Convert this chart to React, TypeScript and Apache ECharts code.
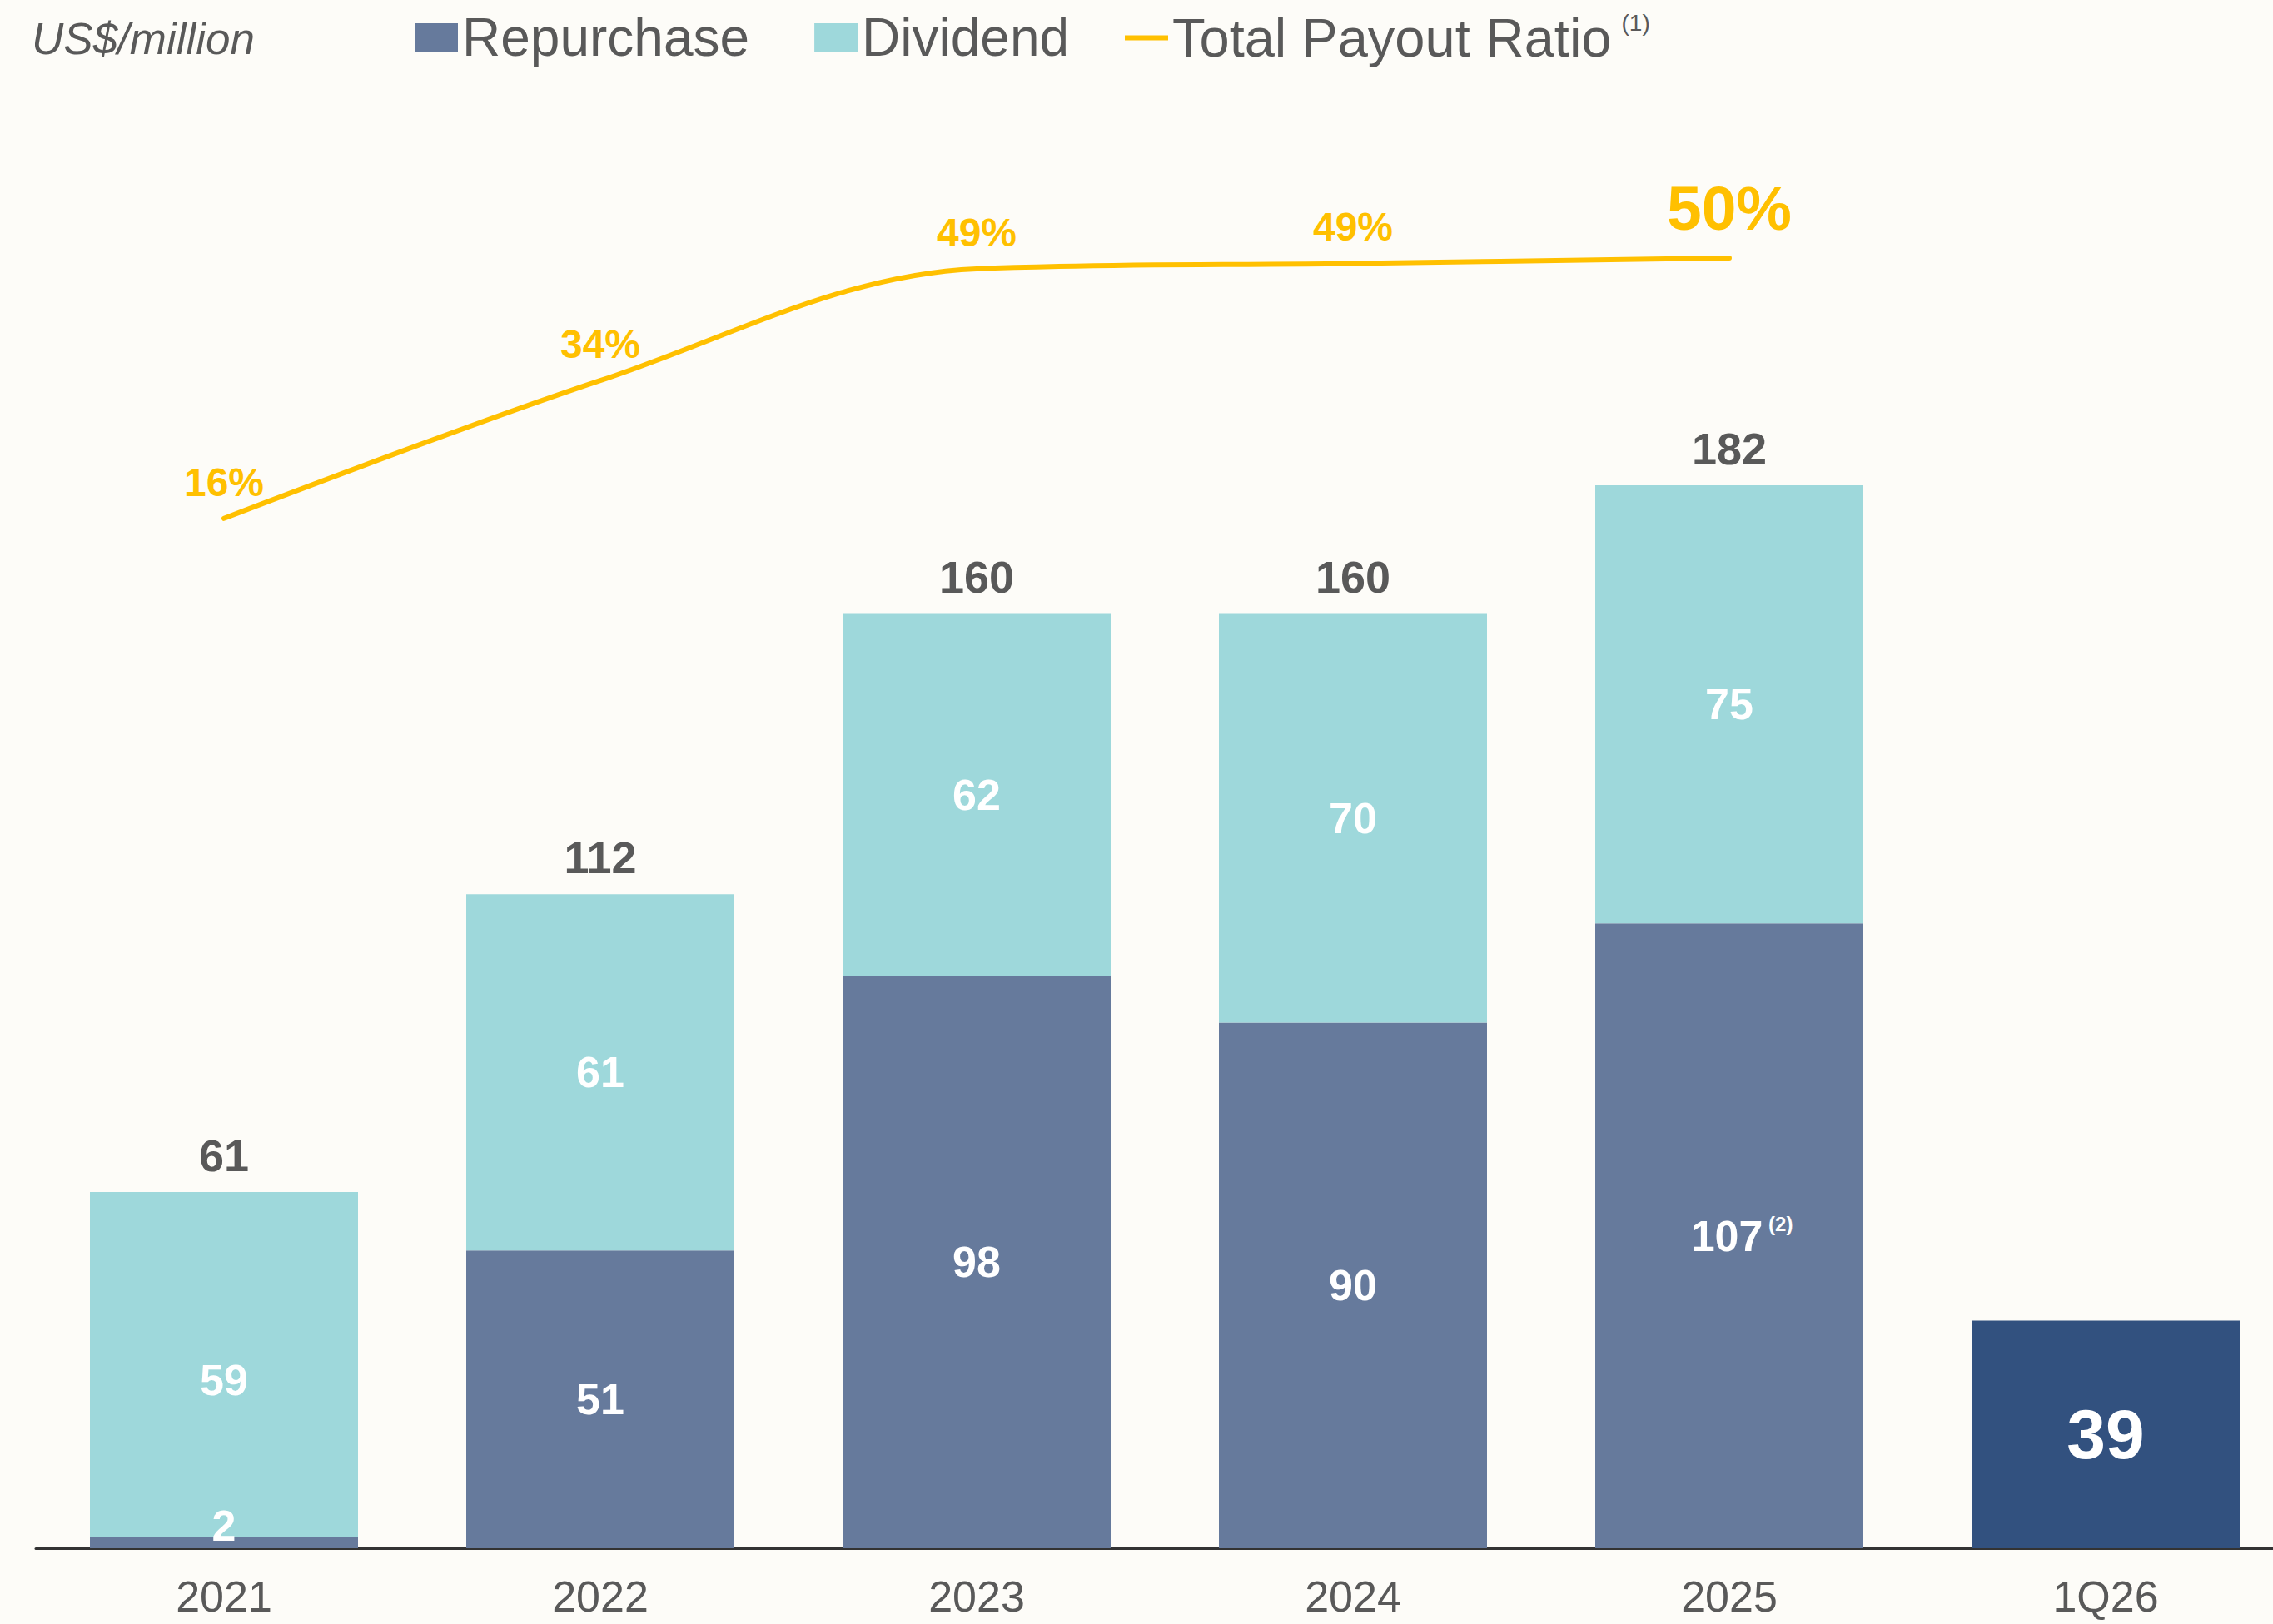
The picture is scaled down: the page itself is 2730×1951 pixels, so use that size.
import React, { useEffect, useRef } from 'react';
import * as echarts from 'echarts';

// ---------- data ----------
const categories = ['2021', '2022', '2023', '2024', '2025', '1Q26'];
const repurchase = [2, 51, 98, 90, 107, 39];
const dividend = [59, 61, 62, 70, 75, null];
const totals = [61, 112, 160, 160, 182, null];
const payoutRatio = [16, 34, 48.6, 49.3, 50, null];
const repurchaseNotes = ['', '', '', '', '(2)', ''];
const ratioNote = '(1)';
const unitLabel = 'US$/million';
const seriesNames = ['Repurchase', 'Dividend', 'Total Payout Ratio'];

// ---------- styles ----------
const FONT = '"Liberation Sans", Arial, Helvetica, sans-serif';
const GRAY = '#595959';
const C_REP = '#667A9C';
const C_DIV = '#9ED8DB';
const C_Q = '#32517F';
const GOLD = '#FFC000';
const BG = '#FDFCF8';

function buildOption() {
  const lastIdx = categories.length - 1;
  const repData = repurchase.map((v, i) => {
    const item: any = { value: v };
    if (i === lastIdx) {
      item.itemStyle = { color: C_Q };
      item.label = { fontSize: 84 };
    }
    if (i === 0) item.label = { offset: [0, -20] };
    if (repurchaseNotes[i]) item.label = { offset: [15, 0] };
    return item;
  });
  const divData = dividend.map((v, i) => {
    const item: any = { value: v };
    if (i === 0) item.label = { offset: [0, 19] };
    return item;
  });
  const ratioData = payoutRatio.map((v, i) => {
    const item: any = { value: v };
    if (i === payoutRatio.length - 2) item.label = { fontSize: 75, distance: 22 };
    return item;
  });

  return {
    animation: false,
    backgroundColor: BG,
    title: {
      text: unitLabel,
      left: 38,
      top: 20,
      padding: 0,
      textStyle: {
        fontSize: 53,
        fontStyle: 'italic',
        fontWeight: 'normal',
        color: GRAY,
        fontFamily: FONT,
        lineHeight: 53,
      },
    },
    legend: [
      {
        data: [seriesNames[0], seriesNames[1]],
        left: 498,
        top: 13,
        padding: 0,
        itemWidth: 52,
        itemHeight: 34,
        itemGap: 78,
        icon: 'rect',
        selectedMode: false,
        textStyle: { fontSize: 64, color: GRAY, fontFamily: FONT, lineHeight: 64 },
      },
      {
        data: [seriesNames[2]],
        left: 1351,
        top: 13,
        padding: 0,
        itemWidth: 52,
        itemHeight: 6,
        icon: 'rect',
        selectedMode: false,
        formatter: (n: string) => `{a|${n}}{sup|${ratioNote}}`,
        textStyle: {
          fontSize: 64,
          color: GRAY,
          fontFamily: FONT,
          rich: {
            a: { fontSize: 65, color: GRAY, fontFamily: FONT, lineHeight: 64 },
            sup: {
              fontSize: 28,
              color: GRAY,
              fontFamily: FONT,
              lineHeight: 28,
              verticalAlign: 'top',
              padding: [0, 0, 0, 12],
            },
          },
        },
      },
    ],
    grid: [
      { left: 43, width: 2712, top: 106, height: 1754 },
      { left: 43, width: 2712, top: 218, height: 552 },
    ],
    xAxis: [
      {
        type: 'category',
        data: categories,
        gridIndex: 0,
        axisLine: { lineStyle: { color: '#333333', width: 3 } },
        axisTick: { show: false },
        axisLabel: {
          color: GRAY,
          fontSize: 52,
          fontFamily: FONT,
          lineHeight: 44,
          margin: 36,
          interval: 0,
        },
      },
      { type: 'category', data: categories, gridIndex: 1, show: false },
    ],
    yAxis: [
      { type: 'value', min: 0, max: 250, gridIndex: 0, show: false, splitLine: { show: false } },
      { type: 'value', min: 0, max: 60, gridIndex: 1, show: false, splitLine: { show: false } },
    ],
    series: [
      {
        name: seriesNames[0],
        type: 'bar',
        stack: 'payout',
        barWidth: 322,
        xAxisIndex: 0,
        yAxisIndex: 0,
        itemStyle: { color: C_REP },
        data: repData,
        label: {
          show: true,
          position: 'inside',
          color: '#fff',
          fontWeight: 'bold',
          fontSize: 52,
          fontFamily: FONT,
          formatter: (p: any) =>
            repurchaseNotes[p.dataIndex]
              ? `{v|${p.value}}{sup| ${repurchaseNotes[p.dataIndex]}}`
              : `${p.value}`,
          rich: {
            v: { fontSize: 52, fontWeight: 'bold', color: '#fff', fontFamily: FONT, lineHeight: 52 },
            sup: { fontSize: 24, color: '#fff', fontFamily: FONT, lineHeight: 26, verticalAlign: 'top' },
          },
        },
      },
      {
        name: seriesNames[1],
        type: 'bar',
        stack: 'payout',
        barWidth: 322,
        xAxisIndex: 0,
        yAxisIndex: 0,
        itemStyle: { color: C_DIV },
        data: divData,
        label: {
          show: true,
          position: 'inside',
          color: '#fff',
          fontWeight: 'bold',
          fontSize: 52,
          fontFamily: FONT,
        },
      },
      {
        name: 'Total',
        type: 'scatter',
        xAxisIndex: 0,
        yAxisIndex: 0,
        symbolSize: 1,
        silent: true,
        itemStyle: { color: 'rgba(0,0,0,0)', opacity: 1 },
        data: totals,
        label: {
          show: true,
          position: 'top',
          distance: 17,
          color: GRAY,
          opacity: 1,
          fontWeight: 'bold',
          fontSize: 54,
          fontFamily: FONT,
        },
      },
      {
        name: seriesNames[2],
        type: 'line',
        xAxisIndex: 1,
        yAxisIndex: 1,
        smooth: 0.35,
        symbol: 'circle',
        symbolSize: 1,
        itemStyle: { color: GOLD },
        lineStyle: { color: GOLD, width: 6, cap: 'round' },
        data: ratioData,
        label: {
          show: true,
          position: 'top',
          distance: 19,
          color: GOLD,
          fontWeight: 'bold',
          fontSize: 48,
          fontFamily: FONT,
          formatter: (p: any) => `${Math.round(p.value)}%`,
        },
      },
    ],
  };
}

export default function App() {
  const ref = useRef<HTMLDivElement>(null);
  useEffect(() => {
    document.body.style.margin = '0';
    document.body.style.overflow = 'hidden';
    document.body.style.background = BG;
    if (!ref.current) return;
    const chart = echarts.init(ref.current, undefined, { renderer: 'svg' });
    chart.setOption(buildOption() as any);
    return () => chart.dispose();
  }, []);
  return (
    <div
      style={{
        position: 'absolute',
        left: 0,
        top: 0,
        width: 2730,
        height: 1951,
        overflow: 'hidden',
        background: BG,
      }}
    >
      <div ref={ref} style={{ width: 2770, height: 1951 }} />
    </div>
  );
}
